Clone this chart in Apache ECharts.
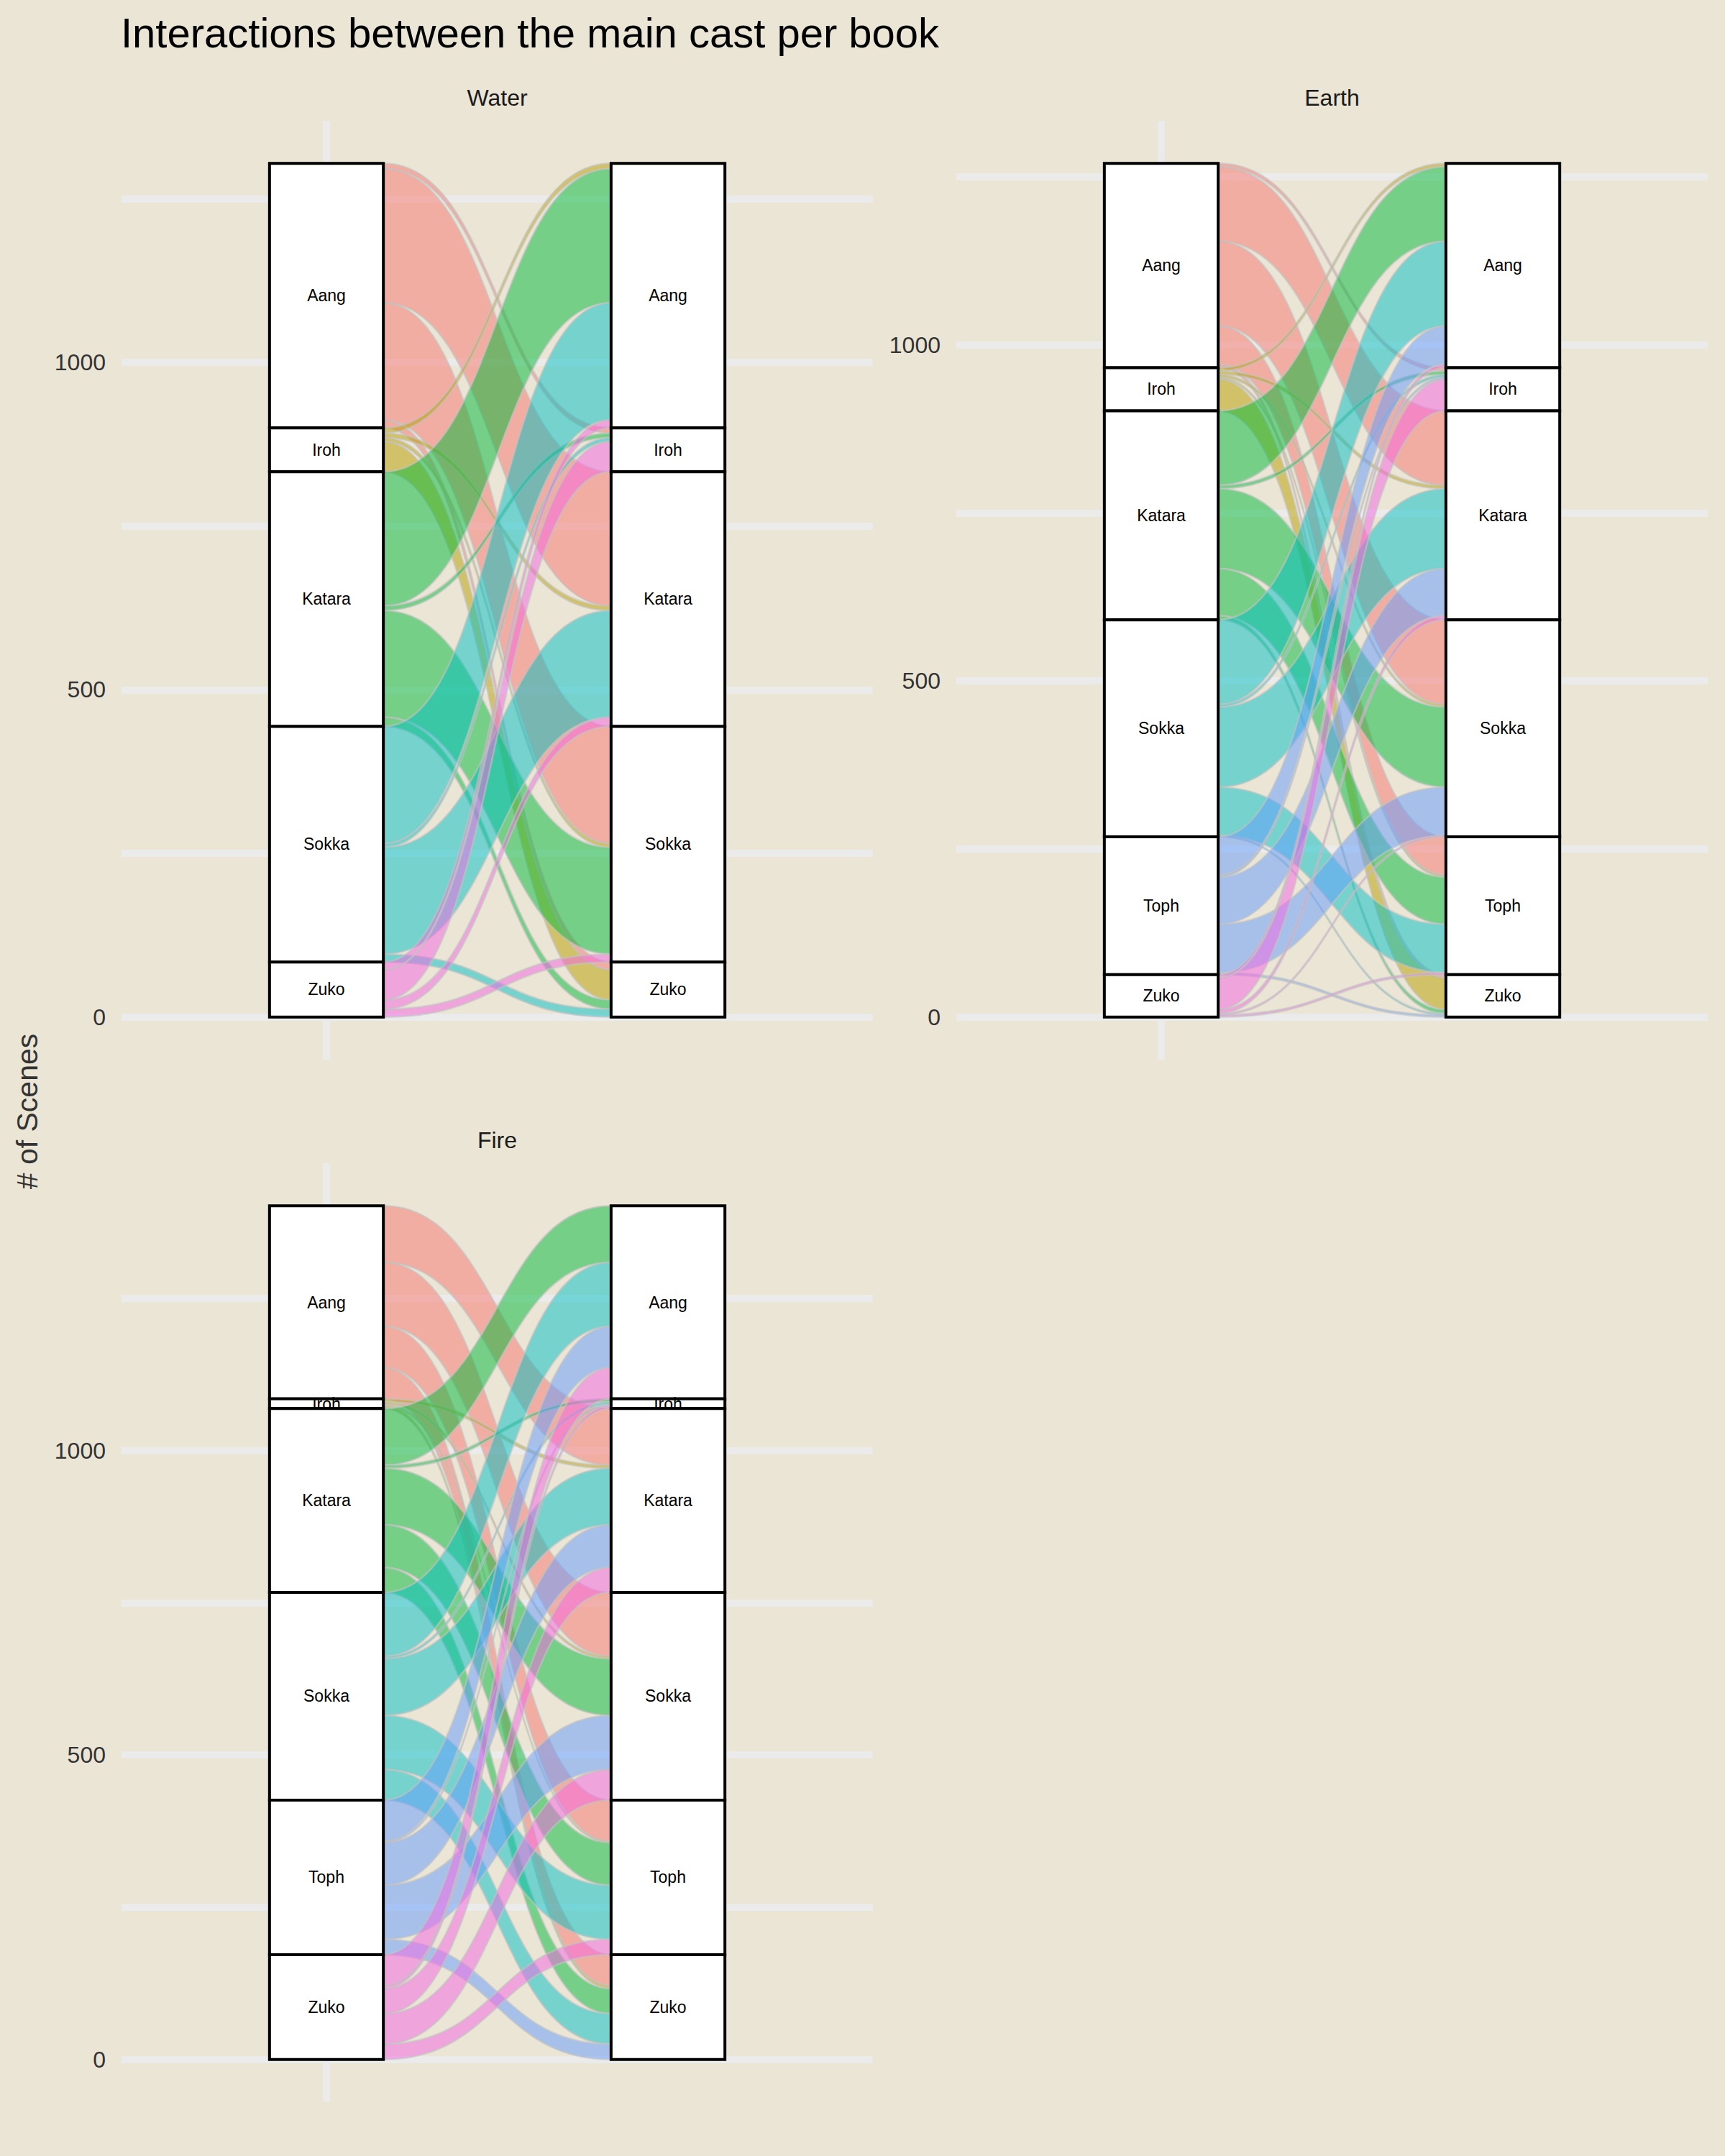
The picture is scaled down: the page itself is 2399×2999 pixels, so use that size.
<!DOCTYPE html>
<html>
<head>
<meta charset="utf-8">
<script src="https://cdn.jsdelivr.net/npm/echarts@6/dist/echarts.min.js"></script>
<style>
html,body{margin:0;padding:0;background:#EBE5D5;}
#chart{width:2399px;height:2999px;}
</style>
</head>
<body>
<div id="chart"></div>
<script>
// ---------- data ----------
const characters = ["Aang", "Iroh", "Katara", "Sokka", "Toph", "Zuko"];
const characterColors = ["#F8766D", "#B79F00", "#00BA38", "#00BFC4", "#619CFF", "#F564E3"];
const bookNames = ["Water", "Earth", "Fire"];

// scenes[from][to], rows/cols in cast order
const waterCast = ["Aang", "Iroh", "Katara", "Sokka", "Zuko"];
const waterScenes = [
  [0, 8, 205, 179, 12],
  [8, 0, 7, 6, 46],
  [205, 7, 0, 163, 14],
  [179, 6, 163, 0, 12],
  [12, 46, 14, 12, 0]
];
const earthCast = ["Aang", "Iroh", "Katara", "Sokka", "Toph", "Zuko"];
const earthScenes = [
  [0, 5, 111, 126, 57, 5],
  [5, 0, 5, 4, 3, 47],
  [111, 5, 0, 119, 70, 6],
  [126, 4, 119, 0, 72, 2],
  [57, 3, 70, 72, 0, 3],
  [5, 47, 6, 2, 3, 0]
];
const fireCast = ["Aang", "Iroh", "Katara", "Sokka", "Toph", "Zuko"];
const fireScenes = [
  [0, 0, 93, 105, 68, 51],
  [0, 0, 5, 4, 2, 5],
  [93, 5, 0, 93, 70, 41],
  [105, 4, 93, 0, 89, 50],
  [68, 2, 70, 89, 0, 25],
  [51, 5, 41, 50, 25, 0]
];
const yGridValues = [0, 250, 500, 750, 1000, 1250];
const yLabelValues = [0, 500, 1000];
const axisPositions = [1, 2];

// ---------- layout ----------
const FONT = "'Liberation Sans', Arial, Helvetica, sans-serif";
const panels = [
  {left: 169, top: 168},
  {left: 1330, top: 168},
  {left: 169, top: 1618}
];
const PW = 1045, PH = 1306;
const STRATUM_W = 1 / 3;

function rgba(hex, a) {
  const n = parseInt(hex.slice(1), 16);
  return `rgba(${(n >> 16) & 255},${(n >> 8) & 255},${n & 255},${a})`;
}

function buildBook(cast, scenes) {
  const n = cast.length;
  const rowTot = scenes.map(r => r.reduce((a, b) => a + b, 0));
  const colTot = cast.map((_, j) => scenes.reduce((a, r) => a + r[j], 0));
  const grand = rowTot.reduce((a, b) => a + b, 0);
  const leftTop = [], rightTop = [];
  let accL = grand, accR = grand;
  for (let i = 0; i < n; i++) {
    leftTop.push(accL); accL -= rowTot[i];
    rightTop.push(accR); accR -= colTot[i];
  }
  const lc = leftTop.slice(), rc = rightTop.slice();
  const flows = [];
  const x0 = axisPositions[0] + STRATUM_W / 2, x1 = axisPositions[1] - STRATUM_W / 2;
  for (let i = 0; i < n; i++) {
    for (let j = 0; j < n; j++) {
      const v = scenes[i][j];
      if (!v) continue;
      const yl1 = lc[i], yl0 = yl1 - v; lc[i] = yl0;
      const yr1 = rc[j], yr0 = yr1 - v; rc[j] = yr0;
      flows.push([x0, yl0, yl1, x1, yr0, yr1, characters.indexOf(cast[i])]);
    }
  }
  const strata = [];
  for (let i = 0; i < n; i++) {
    strata.push([axisPositions[0], leftTop[i] - rowTot[i], leftTop[i], characters.indexOf(cast[i])]);
    strata.push([axisPositions[1], rightTop[i] - colTot[i], rightTop[i], characters.indexOf(cast[i])]);
  }
  return {flows, strata, grand};
}

const books = [buildBook(waterCast, waterScenes), buildBook(earthCast, earthScenes), buildBook(fireCast, fireScenes)];

const grids = [], xAxes = [], yAxes = [], series = [];
const gridLine = {show: true, lineStyle: {color: '#EBEBEB', width: 10}};

books.forEach((bk, b) => {
  grids.push({left: panels[b].left, top: panels[b].top, width: PW, height: PH, containLabel: false});
  xAxes.push({
    type: 'value', gridIndex: b, min: 0.4, max: 2.6,
    axisLine: {show: false}, axisLabel: {show: false},
    axisTick: {show: false, customValues: [axisPositions[0]]},
    splitLine: gridLine
  });
  const ymin = -0.05 * bk.grand, ymax = 1.05 * bk.grand;
  yAxes.push({
    type: 'value', gridIndex: b, min: ymin, max: ymax,
    axisLine: {show: false},
    axisTick: {show: false, customValues: yGridValues.filter(v => v <= ymax)},
    axisLabel: {
      customValues: yLabelValues, margin: 22, fontSize: 32, color: '#333333', fontFamily: FONT,
      formatter: v => String(v)
    },
    splitLine: gridLine
  });
  series.push({
    type: 'custom', name: bookNames[b] + ' flows', xAxisIndex: b, yAxisIndex: b, z: 2,
    data: bk.flows,
    renderItem: (params, api) => {
      const a0 = api.coord([api.value(0), api.value(1)]);
      const a1 = api.coord([api.value(0), api.value(2)]);
      const b0 = api.coord([api.value(3), api.value(4)]);
      const b1 = api.coord([api.value(3), api.value(5)]);
      const xm = (a0[0] + b0[0]) / 2;
      const d = `M${a1[0]},${a1[1]} C${xm},${a1[1]} ${xm},${b1[1]} ${b1[0]},${b1[1]} ` +
                `L${b0[0]},${b0[1]} C${xm},${b0[1]} ${xm},${a0[1]} ${a0[0]},${a0[1]} Z`;
      return {
        type: 'path', shape: {pathData: d},
        style: {fill: rgba(characterColors[api.value(6)], 0.5), stroke: 'rgba(195,195,195,0.6)', lineWidth: 2.5}
      };
    }
  });
  series.push({
    type: 'custom', name: bookNames[b] + ' strata', xAxisIndex: b, yAxisIndex: b, z: 3,
    data: bk.strata,
    renderItem: (params, api) => {
      const xc = api.value(0);
      const tl = api.coord([xc - STRATUM_W / 2, api.value(2)]);
      const br = api.coord([xc + STRATUM_W / 2, api.value(1)]);
      return {
        type: 'group',
        children: [
          {type: 'rect', shape: {x: tl[0], y: tl[1], width: br[0] - tl[0], height: br[1] - tl[1]},
           style: {fill: '#FFFFFF', stroke: '#000000', lineWidth: 4}},
          {type: 'text', x: (tl[0] + br[0]) / 2, y: (tl[1] + br[1]) / 2,
           style: {text: characters[api.value(3)], align: 'center', verticalAlign: 'middle',
                   fontSize: 23, fill: '#000000', fontFamily: FONT}}
        ]
      };
    }
  });
});

const graphics = bookNames.map((name, b) => ({
  type: 'text', x: panels[b].left + PW / 2, y: panels[b].top - 32.5,
  style: {text: name, align: 'center', verticalAlign: 'middle', fontSize: 32, fill: '#1A1A1A', fontFamily: FONT}
}));
graphics.push({
  type: 'text', x: 38, y: 1546, rotation: Math.PI / 2,
  style: {text: '# of Scenes', align: 'center', verticalAlign: 'middle', fontSize: 41, fill: '#333333', fontFamily: FONT}
});

const chart = echarts.init(document.getElementById('chart'), null, {renderer: 'svg', width: 2399, height: 2999});
chart.setOption({
  backgroundColor: '#EBE5D5',
  animation: false,
  title: {
    text: 'Interactions between the main cast per book', left: 168, top: 16, padding: 0,
    textStyle: {fontSize: 58, fontWeight: 'normal', color: '#000000', fontFamily: FONT}
  },
  grid: grids, xAxis: xAxes, yAxis: yAxes, series: series, graphic: graphics
});
</script>
</body>
</html>
